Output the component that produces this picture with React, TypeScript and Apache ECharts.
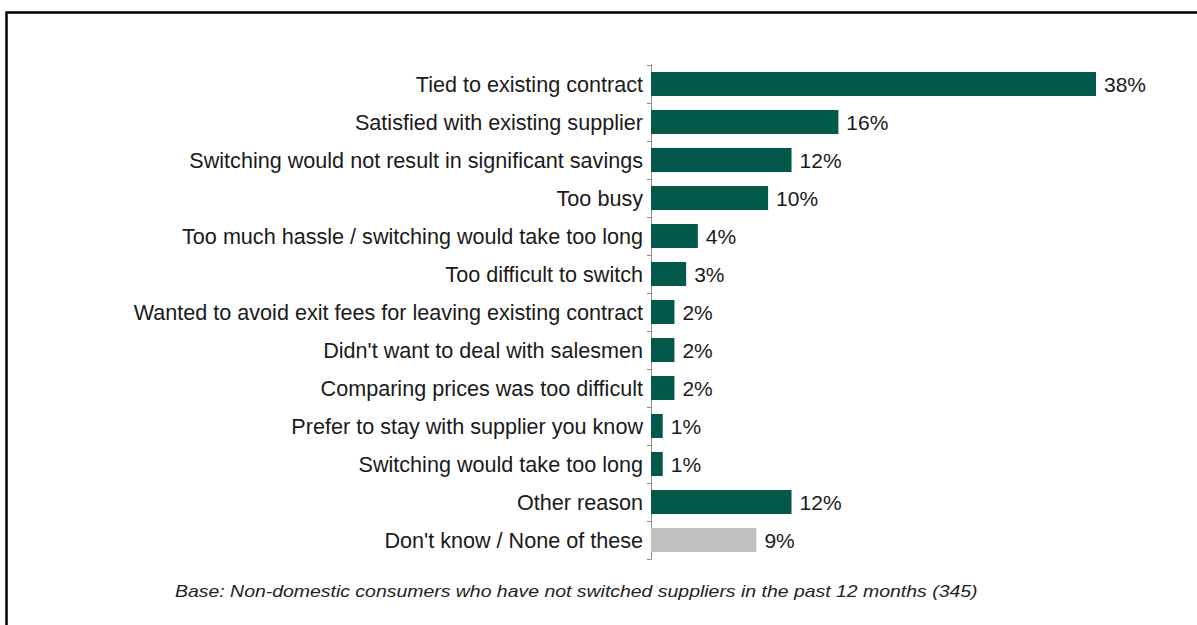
import React, { useEffect, useRef } from "react";
import * as echarts from "echarts";

const categories = [
  "Tied to existing contract",
  "Satisfied with existing supplier",
  "Switching would not result in significant savings",
  "Too busy",
  "Too much hassle / switching would take too long",
  "Too difficult to switch",
  "Wanted to avoid exit fees for leaving existing contract",
  "Didn't want to deal with salesmen",
  "Comparing prices was too difficult",
  "Prefer to stay with supplier you know",
  "Switching would take too long",
  "Other reason",
  "Don't know / None of these",
];
const values = [38, 16, 12, 10, 4, 3, 2, 2, 2, 1, 1, 12, 9];
const greyCategories = ["Don't know / None of these"];
const footnote =
  "Base: Non-domestic consumers who have not switched suppliers in the past 12 months (345)";

const GREEN = "#02584a";
const GREY = "#c0c0c0";
const FONT = "Liberation Sans, Arial, sans-serif";

export default function App() {
  const ref = useRef<HTMLDivElement>(null);
  useEffect(() => {
    document.body.style.margin = "0";
    const chart = echarts.init(ref.current!, null, { renderer: "svg" });
    chart.setOption({
      animation: false,
      backgroundColor: "#ffffff",
      grid: { left: 651, top: 65, height: 494, right: 77.6, containLabel: false },
      xAxis: {
        type: "value",
        min: 0,
        max: 40,
        show: false,
      },
      yAxis: {
        type: "category",
        data: categories,
        inverse: true,
        axisLine: { show: true, lineStyle: { color: "#8c8c8c", width: 1 } },
        axisTick: { show: true, length: 4, lineStyle: { color: "#8c8c8c" } },
        axisLabel: {
          color: "#1a1a1a",
          fontSize: 21.6,
          fontFamily: FONT,
          margin: 8,
        },
        splitLine: { show: false },
      },
      series: [
        {
          type: "bar",
          barWidth: 24,
          data: values.map((v, i) => ({
            value: v,
            itemStyle: {
              color: greyCategories.includes(categories[i]) ? GREY : GREEN,
            },
          })),
          label: {
            show: true,
            position: "right",
            distance: 8,
            formatter: "{c}%",
            color: "#1a1a1a",
            fontSize: 21,
            fontFamily: FONT,
          },
        },
      ],
      graphic: [
        {
          type: "rect",
          shape: { x: 6.5, y: 12.5, width: 1400, height: 1000 },
          style: { fill: "none", stroke: "#000000", lineWidth: 2.5 },
          silent: true,
        },
        {
          type: "text",
          x: 175,
          y: 592,
          scaleX: 1.215,
          style: {
            text: footnote,
            fill: "#222222",
            font: "italic 16px Liberation Sans, Arial, sans-serif",
            textVerticalAlign: "middle",
          },
        },
      ],
    });
    return () => chart.dispose();
  }, []);
  return <div ref={ref} style={{ width: 1197, height: 625 }} />;
}
